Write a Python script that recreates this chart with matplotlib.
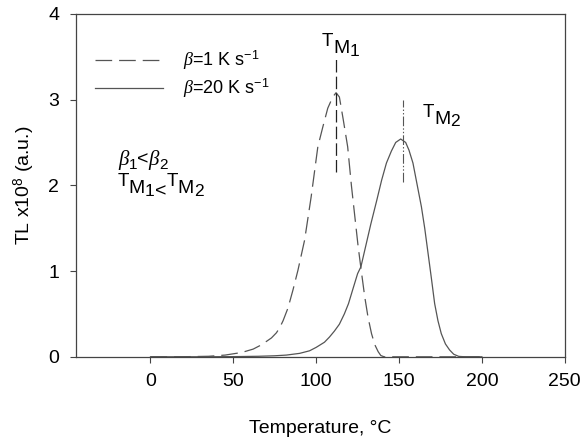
import matplotlib
matplotlib.use("Agg")
import matplotlib.pyplot as plt
from matplotlib.transforms import IdentityTransform

# -------------------------------
# Data
# -------------------------------
t_slow = [0, 20, 35, 45, 55, 62, 66, 70, 73, 76, 78, 80, 83, 86, 89, 93, 97,
          101, 104, 107, 110, 112, 114, 116.3, 119, 121.3, 123.3, 125.3,
          127.3, 129.3, 131.3, 133.4, 135.4, 137.4, 139, 141, 150, 200]
tl_slow = [0, 0.001, 0.006, 0.02, 0.05, 0.09, 0.13, 0.18, 0.22, 0.28, 0.34,
           0.42, 0.57, 0.78, 1.01, 1.36, 1.87, 2.45, 2.68, 2.9, 3.03, 3.08,
           3.03, 2.77, 2.45, 1.99, 1.64, 1.29, 0.99, 0.7, 0.46, 0.27, 0.14,
           0.06, 0.015, 0, 0, 0]

t_fast = [0, 30, 50, 65, 75, 82, 90, 96, 100, 105, 108, 111, 114, 117,
          119.5, 122, 125, 127, 130, 133, 136.5, 139.5, 142.4, 145.4, 148,
          151, 154, 156, 158.4, 161, 163.5, 165.5, 167.5, 169.5, 171.5,
          173.5, 175.5, 178, 180.5, 183, 186, 190, 200]
tl_fast = [0, 0.0005, 0.002, 0.006, 0.012, 0.02, 0.04, 0.07, 0.11, 0.17,
           0.23, 0.3, 0.38, 0.5, 0.62, 0.78, 0.97, 1.05, 1.3, 1.55, 1.82,
           2.06, 2.26, 2.4, 2.5, 2.54, 2.5, 2.41, 2.26, 2.0, 1.75, 1.5, 1.21,
           0.92, 0.62, 0.42, 0.27, 0.15, 0.08, 0.03, 0.005, 0, 0]

tm1, tm1_span = 112, (2.15, 3.49)
tm2, tm2_span = 152.5, (2.04, 3.0)

x_ticks = [0, 50, 100, 150, 200, 250]
y_ticks = [0, 1, 2, 3, 4]

# -------------------------------
# Style
# -------------------------------
plt.rcParams['font.family'] = ['Liberation Sans', 'DejaVu Sans']
plt.rcParams['mathtext.fontset'] = 'custom'
plt.rcParams['mathtext.rm'] = 'Liberation Sans'
plt.rcParams['mathtext.it'] = 'Liberation Serif:italic'
plt.rcParams['lines.scale_dashes'] = False

curve_c = '#555555'
spine_c = '#444444'
SERIF_IT = dict(family='Liberation Serif', style='italic')


def piece_text(ax, x, y, parts):
    """Write text pieces one after another, each with its own baseline shift (pt)."""
    fig = ax.figure
    r = fig.canvas.get_renderer()
    x0, y0 = ax.transData.transform((x, y))
    cur = x0
    for s, dy, size, kw in parts:
        t = fig.text(cur, y0 + dy * fig.dpi / 72, s, transform=IdentityTransform(),
                     fontsize=size, ha='left', va='baseline', **kw)
        cur = t.get_window_extent(r).x1


def tm_parts(digit):
    return [('T', 0, 13.5, {}), ('M', -5, 14, {}), (digit, -7, 12.5, {})]


fig = plt.figure(figsize=(5.84, 4.46), dpi=100)
ax = fig.add_axes([0.130, 0.200, 0.837, 0.769])

ax.plot(t_slow, tl_slow, color=curve_c, lw=0.9, dashes=(12, 5),
        label=r'$\beta$=1 K s$^{-1}$')
ax.plot(t_fast, tl_fast, color=curve_c, lw=0.9,
        label=r'$\beta$=20 K s$^{-1}$')

# peak markers
ax.plot([tm1, tm1], tm1_span, color='#222222', lw=0.9, dashes=(9, 3))
ax.plot([tm2, tm2], tm2_span, color='#555555', lw=0.8,
        dashes=(7, 1.5, 1, 1.5, 1, 1.5))

ax.legend(loc='upper left', bbox_to_anchor=(0.005, 0.945), frameon=False,
          fontsize=13, handlelength=3.8, handletextpad=1.1,
          labelspacing=0.25)

ax.set_xlim(-45, 250)
ax.set_ylim(0, 4)
ax.set_xticks(x_ticks)
ax.set_yticks(y_ticks)
ax.tick_params(labelsize=14, length=4, width=0.8, color=spine_c, pad=8,
               direction='out')
for s in ax.spines.values():
    s.set_color(spine_c)
    s.set_linewidth(0.9)

ax.set_xlabel('Temperature, °C', fontsize=14, labelpad=21)
ax.set_ylabel(r'TL x10$^{8}$ (a.u.)', fontsize=14, labelpad=8)

# annotations built piece by piece (subscripts nearly full size)
piece_text(ax, 103.5, 3.62, tm_parts('1'))
piece_text(ax, 164.3, 2.80, tm_parts('2'))
piece_text(ax, -19.5, 2.24, [('β', 0, 15, SERIF_IT), ('1', -3, 11, {}),
                             ('<', 0, 14, {}), ('β', 0, 15, SERIF_IT),
                             ('2', -3, 11, {})])
piece_text(ax, -20, 1.99, tm_parts('1') + [('<', -7, 14, {})] + tm_parts('2'))

fig.savefig('out.png', dpi=100)
